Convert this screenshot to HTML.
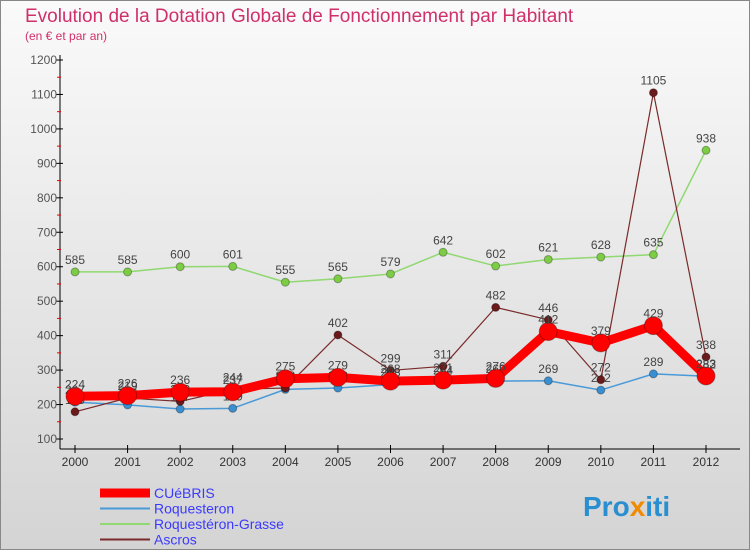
<!DOCTYPE html>
<html><head><meta charset="utf-8"><style>
body{margin:0;width:750px;height:550px;overflow:hidden;font-family:"Liberation Sans",sans-serif}
</style></head><body>
<svg id="c" width="750" height="550" xmlns="http://www.w3.org/2000/svg">
<defs><linearGradient id="bg" x1="0" y1="0" x2="0" y2="1"><stop offset="0" stop-color="#fafafa"/><stop offset="1" stop-color="#d4d4d4"/></linearGradient></defs>
<rect x="0.5" y="0.5" width="749" height="549" fill="url(#bg)" stroke="#888"/>
<text x="25" y="22" font-size="19" fill="#d0306a">Evolution de la Dotation Globale de Fonctionnement par Habitant</text>
<text x="25" y="40" font-size="12" fill="#d0306a">(en € et par an)</text>
<g id="axes"></g><g id="series"></g><g id="legend"></g>
<text x="583" y="516" font-size="28" font-weight="bold" fill="#2a8fd0">Pro<tspan fill="#f08a00">x</tspan>iti</text>
</svg>
<script>
const years=[2000,2001,2002,2003,2004,2005,2006,2007,2008,2009,2010,2011,2012];
const cuebris=[224,226,236,237,275,279,268,271,276,412,379,429,283];
const roquesteron=[207,199,187,189,244,248,258,264,268,269,242,289,282];
const grasse=[585,585,600,601,555,565,579,642,602,621,628,635,938];
const ascros=[179,219,209,244,248,402,299,311,482,446,272,1105,338];
const yTicks=[100,200,300,400,500,600,700,800,900,1000,1100,1200];
const NS="http://www.w3.org/2000/svg";
const x=i=>75+i*(706-75)/12;
const y=v=>439-(v-100)*(439-60)/1100;
function mk(t,a,p){const e=document.createElementNS(NS,t);for(const k in a)e.setAttribute(k,a[k]);p.appendChild(e);return e;}
const ax=document.getElementById('axes');
let l=mk('line',{x1:60,y1:55,x2:60,y2:449,stroke:'#000'},ax);


l=mk('line',{x1:60,y1:449,x2:740,y2:449,stroke:'#000'},ax);


yTicks.forEach(v=>{mk('line',{x1:56,y1:y(v),x2:63,y2:y(v),stroke:'#000'},ax);
 if(v<1200)mk('line',{x1:57,y1:y(v+50),x2:61,y2:y(v+50),stroke:'#e00'},ax);
 const t=mk('text',{x:57,y:y(v)+4,'text-anchor':'end','font-size':12,fill:'#555'},ax);t.textContent=v;
 
 });
years.forEach((yr,i)=>{mk('line',{x1:x(i),y1:445,x2:x(i),y2:453,stroke:'#000'},ax);
 const t=mk('text',{x:x(i),y:466,'text-anchor':'middle','font-size':12,fill:'#333'},ax);t.textContent=yr;
 
 });
const sg=document.getElementById('series');
const series=[
 {n:'roquesteron',d:roquesteron,c:'#4a9ad8',w:1.5,r:4,f:'#3a8fd0'},
 {n:'roquesteron-grasse',d:grasse,c:'#90d870',w:1.5,r:4,f:'#7ccc44'},
 {n:'ascros',d:ascros,c:'#7a2a2a',w:1.2,r:4,f:'#6a1a1a'},
 {n:'cuebris',d:cuebris,c:'#ff0000',w:9,r:9,f:'#ff0000'}];
series.forEach(s=>{
 const g=mk('g',{},sg);
 
 
 mk('polyline',{points:s.d.map((v,i)=>x(i)+','+y(v)).join(' '),fill:'none',stroke:s.c,'stroke-width':s.w,'stroke-linejoin':'round'},g);
 s.d.forEach((v,i)=>{const c=mk('circle',{cx:x(i),cy:y(v),r:s.r,fill:s.f,stroke:'rgba(0,0,0,0.3)'},g);
  
  
  const t=mk('text',{x:x(i),y:y(v)-8,'text-anchor':'middle','font-size':12,fill:'#444'},g);t.textContent=v;
  
  });
});
const lg=document.getElementById('legend');
const leg=[['CUéBRIS','#ff0000',9],['Roquesteron','#4a9ad8',2],['Roquestéron-Grasse','#90d870',2],['Ascros','#7a2a2a',2]];
leg.forEach((e,i)=>{const yy=493+i*15.5;
 const g=mk('g',{},lg);
 
 
 mk('line',{x1:100,y1:yy,x2:150,y2:yy,stroke:e[1],'stroke-width':e[2]},g);
 const t=mk('text',{x:154,y:yy+5,'font-size':14,fill:'#3a3aff'},g);t.textContent=e[0];});
</script>
</body></html>
